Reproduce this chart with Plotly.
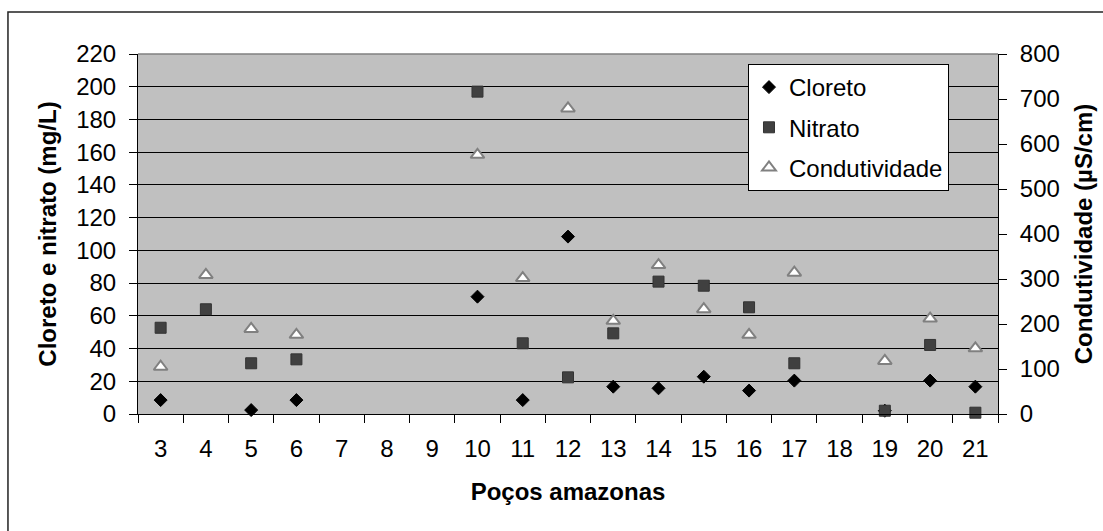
import plotly.graph_objects as go

categories = ["3", "4", "5", "6", "7", "8", "9", "10", "11", "12",
              "13", "14", "15", "16", "17", "18", "19", "20", "21"]
cloreto = [8.5, None, 2.4, 8.5, None, None, None, 71.7, 8.5, 108.4,
           16.7, 15.7, 22.8, 14.3, 20.4, None, 2.0, 20.4, 16.7]
nitrato = [52.7, 64.0, 31.0, 33.4, None, None, None, 197.0, 43.2, 22.4,
           49.3, 80.9, 78.4, 65.2, 31.0, None, 2.0, 42.2, 0.8]
condutividade = [105, 309, 189, 176, None, None, None, 576, 302, 679,
                 207, 331, 233, 176, 314, None, 118, 212, 146]

left_ticks = list(range(0, 221, 20))
right_ticks = list(range(0, 801, 100))

FONT = "Arial, Liberation Sans, sans-serif"
FS = 24

fig = go.Figure()
fig.add_trace(go.Scatter(
    x=categories, y=cloreto, name="Cloreto", mode="markers",
    marker=dict(symbol="diamond", size=10, color="black",
                line=dict(color="black", width=1)),
    legendgroup="a", cliponaxis=False))
fig.add_trace(go.Scatter(
    x=categories, y=nitrato, name="Nitrato", mode="markers",
    marker=dict(symbol="square", size=11, color="#404040",
                line=dict(color="#333333", width=1)),
    legendgroup="b", cliponaxis=False))
fig.add_trace(go.Scatter(
    x=categories, y=condutividade, name="Condutividade", mode="markers",
    yaxis="y2",
    marker=dict(symbol="triangle-up", size=12, color="white",
                line=dict(color="#808080", width=2)),
    legendgroup="c", cliponaxis=False))

fig.update_layout(
    width=1103, height=531,
    margin=dict(l=138, r=105, t=54, b=117),
    paper_bgcolor="white",
    plot_bgcolor="#C0C0C0",
    font=dict(family=FONT, size=FS, color="black"),
    showlegend=True,
    legend=dict(
        x=0.7093, y=0.9722, xanchor="left", yanchor="top",
        bgcolor="white", bordercolor="black", borderwidth=1,
        font=dict(family=FONT, size=FS, color="black"),
        traceorder="grouped", tracegroupgap=6, itemwidth=30,
    ),
    xaxis=dict(
        type="category", categoryorder="array", categoryarray=categories,
        range=[-0.5, len(categories) - 0.5], automargin=False,
        tickson="boundaries", ticks="outside", ticklen=8, tickwidth=1,
        tickcolor="black", showgrid=False, showline=True,
        linecolor="black", linewidth=1, zeroline=False,
        ticklabelstandoff=13,
        tickfont=dict(family=FONT, size=FS, color="black"),
        title=dict(text="<b>Poços amazonas</b>", standoff=22,
                   font=dict(family=FONT, size=FS, color="black")),
    ),
    yaxis=dict(
        range=[0, 220], tickvals=left_ticks, ticks="outside", ticklen=8,
        automargin=False,
        tickcolor="black", showgrid=True, gridcolor="black", gridwidth=1,
        showline=True, linecolor="black", linewidth=1, zeroline=False,
        ticklabelstandoff=8,
        tickfont=dict(family=FONT, size=FS, color="black"),
        title=dict(text="<b>Cloreto e nitrato (mg/L)</b>", standoff=12,
                   font=dict(family=FONT, size=FS, color="black")),
    ),
    yaxis2=dict(
        range=[0, 800], tickvals=right_ticks, overlaying="y", side="right",
        automargin=False,
        ticks="outside", ticklen=8, tickcolor="black", showgrid=False,
        showline=True, linecolor="black", linewidth=1, zeroline=False,
        ticklabelstandoff=8,
        tickfont=dict(family=FONT, size=FS, color="black"),
        title=dict(text="<b>Condutividade (µS/cm)</b>", standoff=16,
                   font=dict(family=FONT, size=FS, color="black")),
    ),
    shapes=[
        dict(type="line", xref="paper", yref="paper", x0=0, x1=1, y0=1, y1=1,
             line=dict(color="#808080", width=1.5)),
        dict(type="rect", xref="paper", yref="paper",
             x0=-0.1512, x1=1.13, y0=-0.4, y1=1.1167,
             line=dict(color="#222222", width=1.5), layer="below"),
    ],
)

fig.write_html("out.html")
